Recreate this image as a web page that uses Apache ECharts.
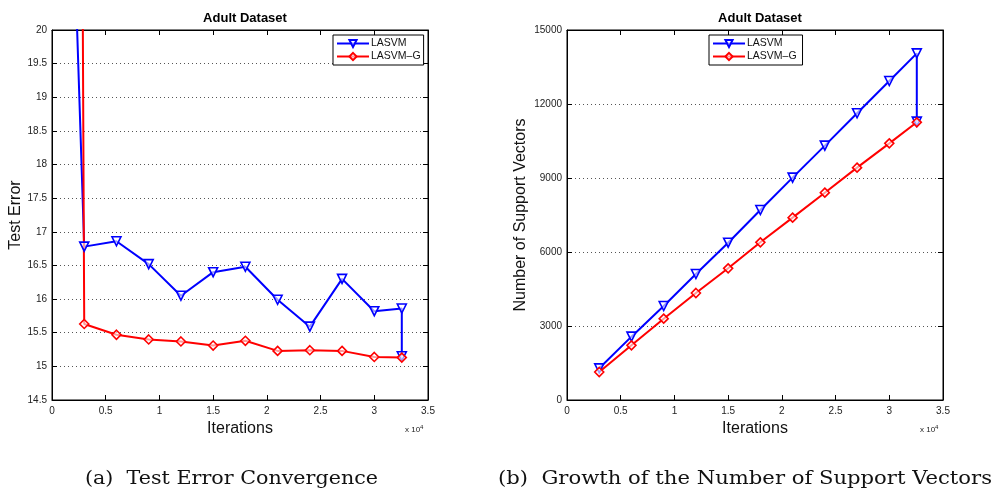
<!DOCTYPE html>
<html>
<head>
<meta charset="utf-8">
<script src="https://cdn.jsdelivr.net/npm/echarts@6/dist/echarts.min.js"></script>
<style>
  html, body { margin: 0; padding: 0; background: #fff; }
  #chart { width: 998px; height: 491px; }
</style>
</head>
<body>
<div id="chart"></div>
<script>
// Checkpoint iterations (Adult training set: 32561 examples)
const iterations = [3000, 6000, 9000, 12000, 15000, 18000, 21000, 24000, 27000, 30000, 32561];

// Test error (%) at each checkpoint
const errStart = { lasvm: [1500, 24.1], lasvmG: [2750, 24.1] };
const errLasvm  = [16.78, 16.86, 16.52, 16.05, 16.40, 16.48, 15.99, 15.59, 16.30, 15.82, 15.86];
const errLasvmFinal = 15.15;
const errLasvmG = [15.63, 15.47, 15.40, 15.37, 15.31, 15.38, 15.23, 15.24, 15.23, 15.14, 15.13];

// Number of support vectors at each checkpoint
const svLasvm  = [1284, 2568, 3811, 5108, 6378, 7703, 9014, 10311, 11622, 12932, 14054];
const svLasvmFinal = 11284;
const svLasvmG = [1135, 2216, 3297, 4338, 5338, 6392, 7392, 8405, 9419, 10405, 11257];

const captionA = '(a)  Test Error Convergence';
const captionB = '(b)  Growth of the Number of Support Vectors';

const BLUE = '#0000ff';
const RED = '#ff0000';
const FONT = 'Liberation Sans';
const SERIF = 'DejaVu Serif';
const triDown = 'path://M0,0 L10,0 L5,9 Z';

function pairs(xs, ys) { return xs.map((x, i) => [x, ys[i]]); }

// horizontal stretch so a caption spans the requested width
const measureCtx = document.createElement('canvas').getContext('2d');
function stretchFor(text, size, width) {
  measureCtx.font = size + 'px "' + SERIF + '"';
  return width / measureCtx.measureText(text).width;
}

function xAxisPair(gridIndex) {
  return [
    {
      type: 'value', gridIndex, min: 0, max: 35000, interval: 5000,
      position: 'bottom',
      axisLine: { show: true, onZero: false, lineStyle: { color: '#000', width: 1 } },
      axisTick: { show: true, inside: true, length: 5, lineStyle: { color: '#000' } },
      axisLabel: {
        color: '#222', fontFamily: FONT, fontSize: 10, margin: 6,
        formatter: v => String(v / 10000)
      },
      splitLine: { show: false },
      name: 'Iterations', nameLocation: 'middle', nameGap: 15,
      nameTextStyle: { fontFamily: FONT, fontSize: 16, color: '#111' }
    },
    {
      type: 'value', gridIndex, min: 0, max: 35000, interval: 5000,
      position: 'top',
      axisLine: { show: true, onZero: false, lineStyle: { color: '#000', width: 1 } },
      axisTick: { show: true, inside: true, length: 5, lineStyle: { color: '#000' } },
      axisLabel: { show: false },
      splitLine: { show: false }
    }
  ];
}

function yAxisPair(gridIndex, min, max, interval, name, nameGap, fmt) {
  return [
    {
      type: 'value', gridIndex, min, max, interval, position: 'left',
      axisLine: { show: true, onZero: false, lineStyle: { color: '#000', width: 1 } },
      axisTick: { show: true, inside: true, length: 5, lineStyle: { color: '#000' } },
      axisLabel: { color: '#222', fontFamily: FONT, fontSize: 10, margin: 5, formatter: fmt },
      splitLine: { show: true, lineStyle: { type: [1, 3], color: '#555', width: 1 } },
      name, nameLocation: 'middle', nameGap, nameRotate: 90,
      nameTextStyle: { fontFamily: FONT, fontSize: 16, color: '#111' }
    },
    {
      type: 'value', gridIndex, min, max, interval, position: 'right',
      axisLine: { show: true, onZero: false, lineStyle: { color: '#000', width: 1 } },
      axisTick: { show: true, inside: true, length: 5, lineStyle: { color: '#000' } },
      axisLabel: { show: false },
      splitLine: { show: false }
    }
  ];
}

function lineSeries(name, color, symbol, size, data, xi, yi) {
  return {
    type: 'line', name, data, xAxisIndex: xi, yAxisIndex: yi,
    clip: true, symbol, symbolSize: size, showAllSymbol: true,
    lineStyle: { color, width: 2 },
    itemStyle: { color: 'rgba(255,255,255,0.6)', borderColor: color, borderWidth: 1.6 },
    emphasis: { disabled: true }, animation: false
  };
}

function legendBox(left, names) {
  return {
    left, top: 35, orient: 'vertical', data: names,
    backgroundColor: '#fff', borderColor: '#000', borderWidth: 1,
    padding: [3, 3, 3, 3], itemGap: 2, itemWidth: 32, itemHeight: 9,
    textStyle: { fontFamily: FONT, fontSize: 10.5, color: '#111', padding: [0, 0, 0, -3] }
  };
}

function exponentLabel(left) {
  return {
    type: 'text', left, top: 424,
    style: {
      text: '{a|x 10}{s|4}',
      rich: {
        a: { fontFamily: FONT, fontSize: 8, fill: '#222' },
        s: { fontFamily: FONT, fontSize: 6, fill: '#222', verticalAlign: 'top', padding: [0, 0, 6, 0] }
      }
    }
  };
}

function caption(text, x, width) {
  const size = 18;
  return {
    type: 'text', x, y: 470, scaleX: stretchFor(text, size, width), scaleY: 1,
    style: { text, x: 0, y: 0, fontFamily: SERIF, fontSize: size, fill: '#111', verticalAlign: 'top', align: 'left' }
  };
}

const blueErr = [errStart.lasvm].concat(pairs(iterations, errLasvm), [[32561, errLasvmFinal]]);
const redErr = [errStart.lasvmG].concat(pairs(iterations, errLasvmG));
const blueSv = pairs(iterations, svLasvm).concat([[32561, svLasvmFinal]]);
const redSv = pairs(iterations, svLasvmG);

const chart = echarts.init(document.getElementById('chart'), null, { renderer: 'canvas' });
chart.setOption({
  animation: false,
  backgroundColor: '#fff',
  title: [
    { text: 'Adult Dataset', left: 240, top: 7, textAlign: 'center',
      textStyle: { fontFamily: FONT, fontSize: 13, fontWeight: 'bold', color: '#000' } },
    { text: 'Adult Dataset', left: 755, top: 7, textAlign: 'center',
      textStyle: { fontFamily: FONT, fontSize: 13, fontWeight: 'bold', color: '#000' } }
  ],
  grid: [
    { left: 52, top: 30, width: 376, height: 370, show: true, borderColor: '#000', borderWidth: 1, backgroundColor: '#fff' },
    { left: 567, top: 30, width: 376, height: 370, show: true, borderColor: '#000', borderWidth: 1, backgroundColor: '#fff' }
  ],
  xAxis: xAxisPair(0).concat(xAxisPair(1)),
  yAxis: yAxisPair(0, 14.5, 20, 0.5, 'Test Error', 21, v => String(+v.toFixed(1)))
    .concat(yAxisPair(1, 0, 15000, 3000, 'Number of Support Vectors', 38, v => String(v))),
  legend: [
    legendBox(333, ['LASVM', 'LASVM\u2013G']),
    legendBox(709, ['LASVM ', 'LASVM\u2013G '])
  ],
  graphic: [
    exponentLabel(405),
    exponentLabel(920),
    caption(captionA, 85, 293),
    caption(captionB, 498, 494)
  ],
  series: [
    lineSeries('LASVM', BLUE, triDown, 9, blueErr, 0, 0),
    lineSeries('LASVM\u2013G', RED, 'diamond', 9, redErr, 0, 0),
    lineSeries('LASVM ', BLUE, triDown, 9, blueSv, 2, 2),
    lineSeries('LASVM\u2013G ', RED, 'diamond', 9, redSv, 2, 2)
  ]
});
</script>
</body>
</html>
